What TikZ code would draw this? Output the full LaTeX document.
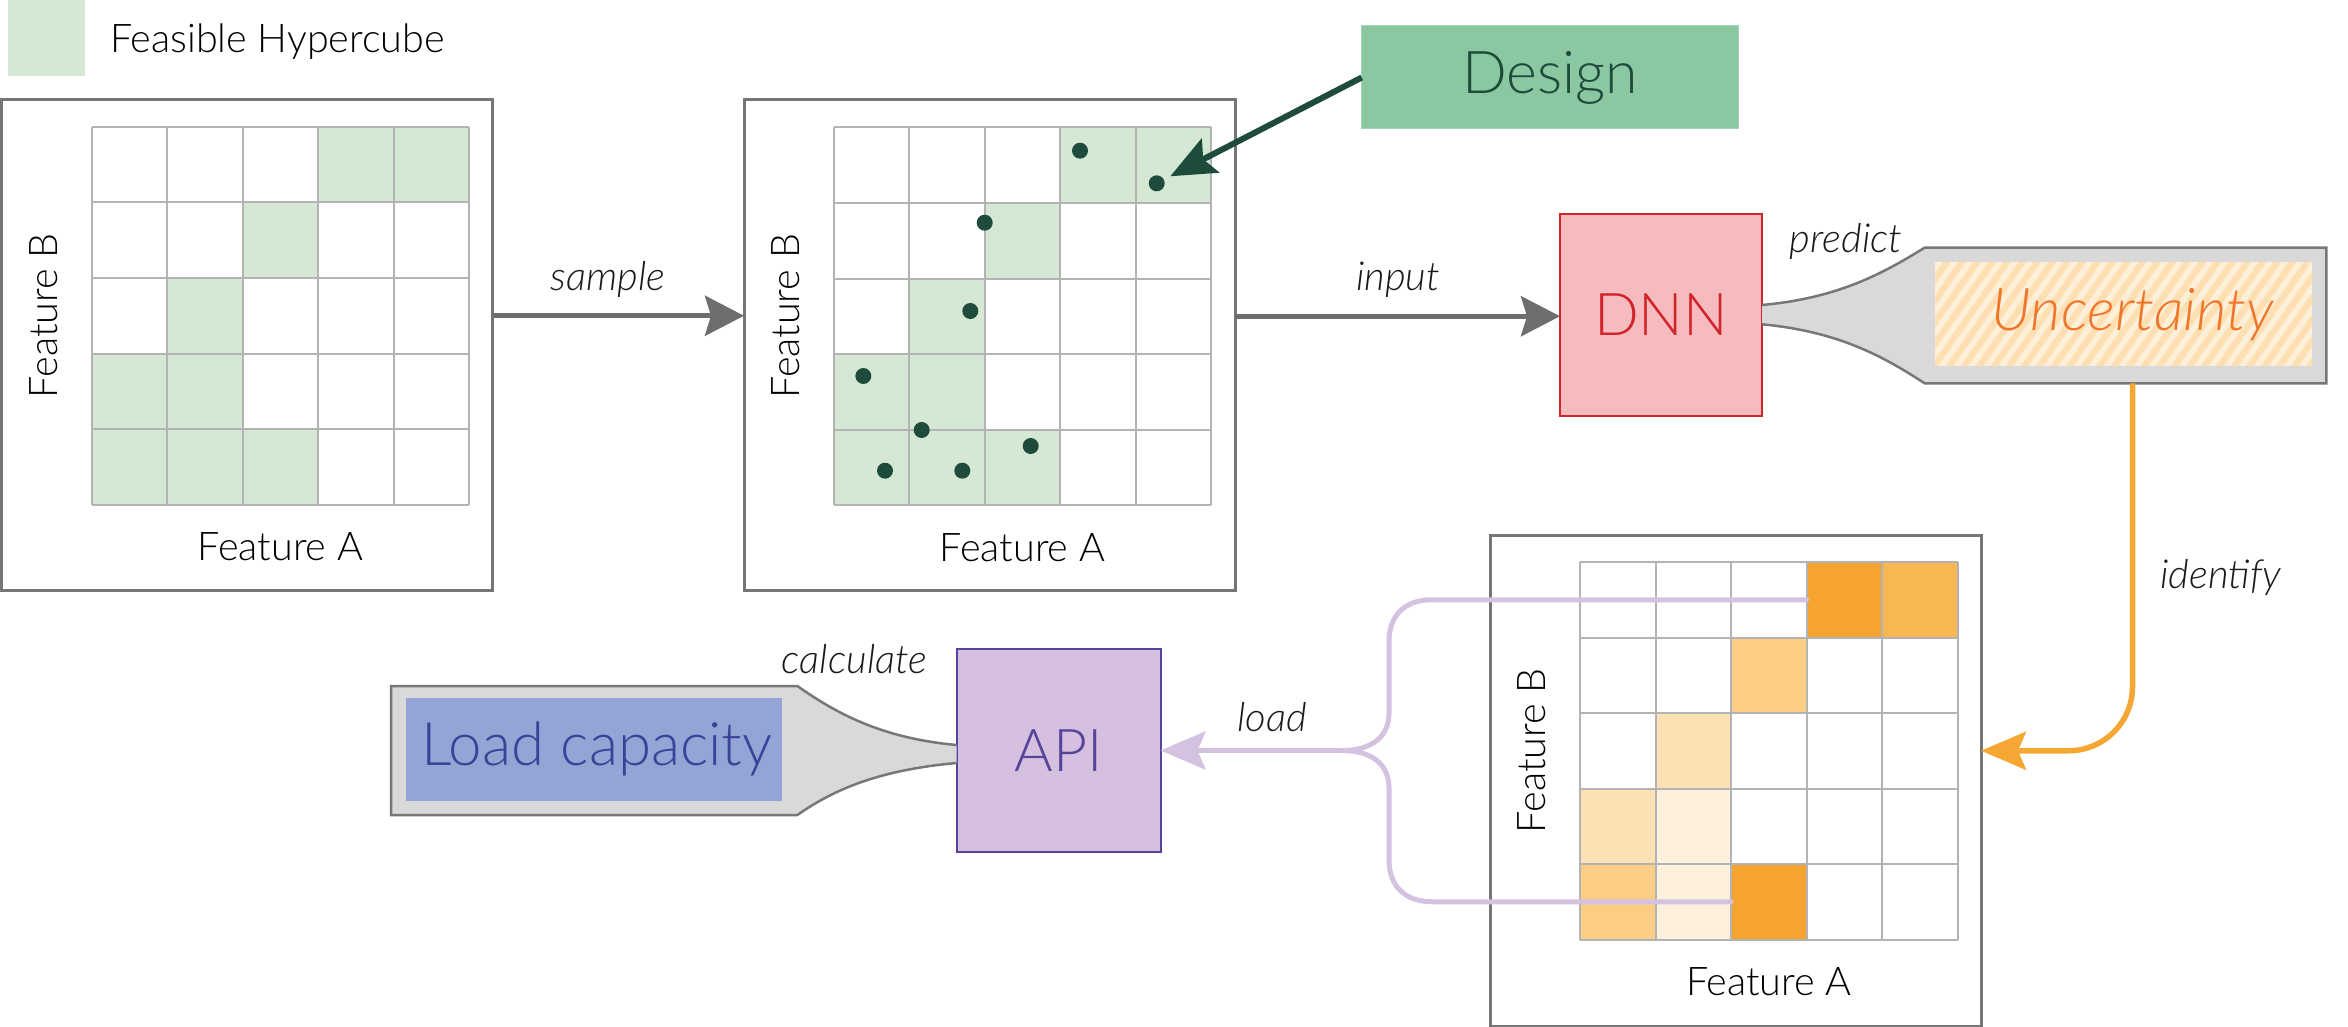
\documentclass[tikz,border=0pt]{standalone}
\usepackage{fontspec}
\setmainfont{Lato Light}
\usetikzlibrary{arrows.meta,patterns.meta}
\definecolor{panelgray}{HTML}{767676}
\definecolor{gridgray}{HTML}{B3B3B3}
\definecolor{cellgreen}{HTML}{D5E8D4}
\definecolor{dotgreen}{HTML}{1E4B3C}
\definecolor{designfill}{HTML}{8BC8A2}
\definecolor{arrowgray}{HTML}{6E6E6E}
\definecolor{dnnfill}{HTML}{F6BBBE}
\definecolor{dnnred}{HTML}{D1242B}
\definecolor{funnelfill}{HTML}{D9D9D9}
\definecolor{funneldraw}{HTML}{777777}
\definecolor{stripedark}{HTML}{FDDFB2}
\definecolor{stripelight}{HTML}{FEEFD9}
\definecolor{unctext}{HTML}{F0762B}
\definecolor{orangearrow}{HTML}{F5A733}
\definecolor{heatA}{HTML}{F5A52F}
\definecolor{heatB}{HTML}{F7B752}
\definecolor{heatC}{HTML}{FBCD85}
\definecolor{heatD}{HTML}{FDE0B3}
\definecolor{heatE}{HTML}{FDF0DD}
\definecolor{lavender}{HTML}{D5C2E0}
\definecolor{apifill}{HTML}{D6C0E0}
\definecolor{apidraw}{HTML}{56439A}
\definecolor{lcfill}{HTML}{94A5D5}
\definecolor{lctext}{HTML}{3A4399}
\definecolor{labeltext}{HTML}{1A1A1A}
\newcommand{\mycellgrid}[2]{%
  \foreach \k in {0,...,5} {
    \draw[gridline] ({#1+\k*75.5},{#2}) -- ({#1+\k*75.5},{#2+377.5});
    \draw[gridline] ({#1},{#2+\k*75.5}) -- ({#1+377.5},{#2+\k*75.5});
  }
}
\begin{document}
\begin{tikzpicture}[x=1pt,y=-1pt,
  every node/.style={inner sep=0pt, outer sep=0pt},
  panel/.style={draw=panelgray, line width=3pt, minimum width=491pt, minimum height=491pt},
  gridline/.style={draw=gridgray, line width=2pt},
  dot/.style={circle, fill=dotgreen, minimum size=16pt},
  lbl/.style={font=\fontsize{39.5}{42}\selectfont, text=black},
  vlbl/.style={font=\itshape\fontsize{40}{44}\selectfont, text=labeltext},
  bigtext/.style={font=\fontsize{59}{62}\selectfont},
  garrow/.style={draw=arrowgray, line width=5pt, -{Stealth[length=39pt,width=40pt,inset=6pt]}},
  darrow/.style={draw=dotgreen, line width=6pt, -{Stealth[length=45pt,width=38pt,inset=8pt]}},
  oarrow/.style={draw=orangearrow, line width=5.5pt, -{Stealth[length=45pt,width=38pt,inset=8pt]}},
  larrow/.style={draw=lavender, line width=5pt, -{Stealth[length=45pt,width=38pt,inset=8pt]}},
  funnel/.style={fill=funnelfill, draw=funneldraw, line width=2.5pt, line join=miter},
]
\useasboundingbox (0,0) rectangle (2348,1027);

% legend
\node[fill=cellgreen, minimum width=76.7pt, minimum height=76pt] (legendbox) at (46.7,38) {};
\node[lbl, anchor=base west] (legendtext) at (110,53) {Feasible Hypercube};

% ---------- panel 1 ----------
\node[panel] (panel1) at (247.3,345) {};
\foreach \r/\c in {0/3,0/4,1/2,2/1,3/0,3/1,4/0,4/1,4/2}
  \fill[cellgreen] ({91.5+\c*75.5},{127+\r*75.5}) rectangle ++(75.5,75.5);
\mycellgrid{91.5}{127}
\coordinate (g1) at (280.25,315.75);
\node[lbl, rotate=90, anchor=base] (fb1) at (57,315.75) {Feature B};
\node[lbl, anchor=base] (fa1) at (280.25,560.5) {Feature A};

% ---------- panel 2 ----------
\node[panel] (panel2) at (989.5,345) {};
\foreach \r/\c in {0/3,0/4,1/2,2/1,3/0,3/1,4/0,4/1,4/2}
  \fill[cellgreen] ({833.5+\c*75.5},{127.5+\r*75.5}) rectangle ++(75.5,75.5);
\mycellgrid{833.5}{127.5}
\coordinate (g2) at (1022.25,316.25);
\node[lbl, rotate=90, anchor=base] (fb2) at (799,316.25) {Feature B};
\node[lbl, anchor=base] (fa2) at (1022.25,561) {Feature A};
\node[dot] (p1) at (1080,150.7) {};
\node[dot] (p2) at (1156.7,183.3) {};
\node[dot] (p3) at (984.7,222.7) {};
\node[dot] (p4) at (970.3,311) {};
\node[dot] (p5) at (863.3,376) {};
\node[dot] (p6) at (921.7,430) {};
\node[dot] (p7) at (885,470.7) {};
\node[dot] (p8) at (962.3,470.7) {};
\node[dot] (p9) at (1030.7,446) {};

% design
\node[fill=designfill, draw=designfill!80!white, line width=1pt, minimum width=376.6pt, minimum height=103pt, bigtext, text=dotgreen] (design) at (1550,77.5) {Design};
\draw[darrow, shorten >=7.3pt] (design.west) -- (p2);

% sample / input arrows
\draw[garrow] (panel1.east |- g1) -- (panel2.west |- g1);
\node[vlbl, anchor=base] (sample) at (608,290) {sample};

\node[fill=dnnfill, draw=dnnred, line width=2pt, minimum width=202pt, minimum height=202pt, bigtext, text=dnnred] (dnn) at (1661,315) {DNN};
\draw[garrow] (panel2.east |- g2) -- (dnn.west |- g2);
\node[vlbl, anchor=base] (input) at (1398,290) {input};

% uncertainty funnel
\node[minimum width=401.8pt, minimum height=135.6pt] (unc) at (2125.5,315.5) {};
\path[funnel] (dnn.east |- 0,305) .. controls (1840,298) and (1885,272) .. (unc.north west)
  -- (unc.north east) -- (unc.south east) -- (unc.south west)
  .. controls (1885,357.6) and (1840,331.6) .. (dnn.east |- 0,324.3);
\fill[stripelight] (1935.4,262.3) rectangle (2312.3,365.7);
\fill[pattern={Lines[angle=55,distance=12.3pt,line width=6.2pt]}, pattern color=stripedark] (1935.4,262.3) rectangle (2312.3,365.7);
\node[font=\itshape\fontsize{59}{62}\selectfont, text=unctext] (unclabel) at (2132.7,315) {Uncertainty};
\node[vlbl, anchor=base] (predict) at (1846,252) {predict};

% ---------- panel 3 ----------
\node[panel] (panel3) at (1735.5,780.5) {};
\foreach \r/\c/\col in {0/3/heatA,0/4/heatB,1/2/heatC,2/1/heatD,3/0/heatD,3/1/heatE,4/0/heatC,4/1/heatE,4/2/heatA}
  \fill[\col] ({1580+\c*75.5},{562+\r*75.5}) rectangle ++(75.5,75.5);
\mycellgrid{1580}{562}
\coordinate (g3) at (1768.75,750.75);
\node[lbl, rotate=90, anchor=base] (fb3) at (1545.5,750.75) {Feature B};
\node[lbl, anchor=base] (fa3) at (1768.75,995.5) {Feature A};

% identify arrow
\draw[oarrow, rounded corners=64pt] ([xshift=7pt]unc.south) |- (panel3.east |- g3);
\node[vlbl, anchor=base] (identify) at (2220.7,588) {identify};

% brace
\coordinate (btop) at (1806.5,599.75);
\coordinate (bbot) at (1731,901.75);
\coordinate (btip) at (1342,750.5);
\draw[lavender, line width=5pt, line cap=round]
  (btop) -- (1432,599.75) .. controls (1405,599.75) and (1389,615) .. (1389,642)
  -- (1389,713) .. controls (1389,738) and (1370,750.5) .. (btip)
  .. controls (1370,750.5) and (1389,763) .. (1389,788)
  -- (1389,860) .. controls (1389,886) and (1405,901.75) .. (1432,901.75) -- (bbot);

% API
\node[fill=apifill, draw=apidraw, line width=2pt, minimum width=204pt, minimum height=202.4pt, bigtext, text=apidraw] (api) at (1058.5,750.5) {API};
\draw[larrow] (btip) -- (api.east |- btip);
\node[vlbl, anchor=base] (load) at (1272,731.7) {load};

% load capacity funnel
\node[minimum width=406.3pt, minimum height=129pt] (lc) at (594.2,750.5) {};
\path[funnel] (api.west |- 0,745) .. controls (879.5,738) and (834.5,712) .. (lc.north east)
  -- (lc.north west) -- (lc.south west) -- (lc.south east)
  .. controls (834.5,789) and (879.5,770) .. (api.west |- 0,763);
\node[fill=lcfill, minimum width=376.5pt, minimum height=103.3pt] (lcin) at (593.8,749.4) {};
\node[font=\fontsize{60}{63}\selectfont, text=lctext] (lclabel) at (597,749) {Load capacity};
\node[vlbl, anchor=base] (calculate) at (854.6,673) {calculate};
\end{tikzpicture}
\end{document}
